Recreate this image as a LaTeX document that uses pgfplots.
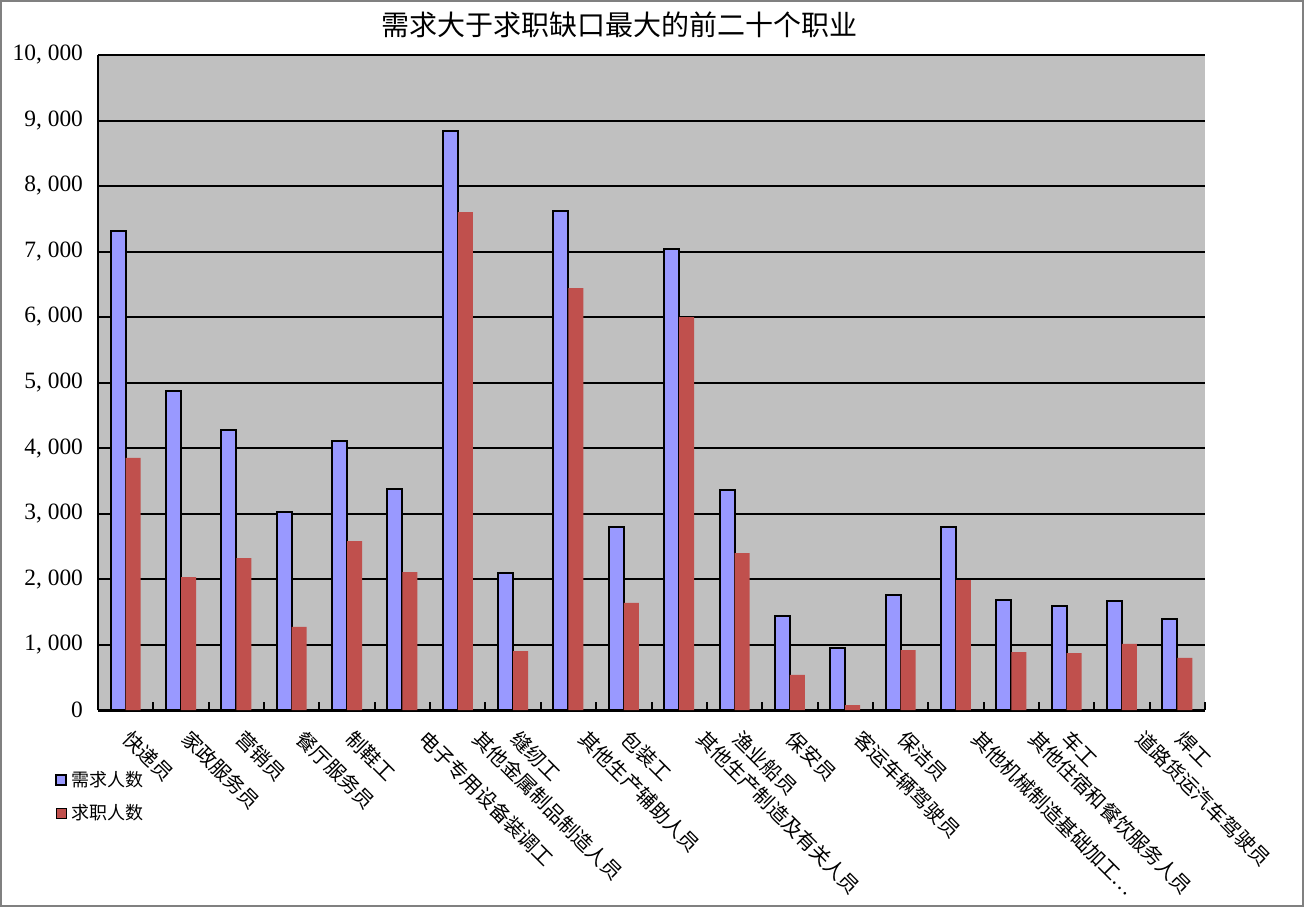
\documentclass[border=0pt]{standalone}
\usepackage{fontspec}
\setmainfont{Liberation Serif}
\newfontfamily\cjk{Noto Sans CJK SC}
\usepackage{pgfplots}
\pgfplotsset{compat=1.18}
\definecolor{demandblue}{RGB}{153,153,255}
\definecolor{supplyred}{RGB}{192,80,77}
\definecolor{plotgray}{RGB}{192,192,192}
% horizontal offset of each category label (pt)
\def\labshift{{4,5.5,5,7.5,4.5,13.5,13,4,10.5,4,14,4.5,3.5,9.5,4,13,14,3,12,4.5}}

\begin{document}
\begin{tikzpicture}
\path (0,0) rectangle (652pt,-453.5pt);
\draw[gray, line width=1pt] (0.5pt,-0.5pt) rectangle (651.5pt,-453pt);
\begin{axis}[
    at={(49pt,-355pt)}, anchor=south west,
    scale only axis, width=553.5pt, height=327.5pt,
    ybar=0pt, bar width=7.5pt,
    ymin=0, ymax=10000, xmin=-0.5, xmax=19.5,
    axis background/.style={fill=plotgray},
    axis x line*=bottom, axis y line*=left,
    x axis line style={line width=1.5pt},
    y axis line style={line width=1pt},
    ytick={0,1000,...,10000},
    ymajorgrids, major grid style={black, line width=1pt},
    major y tick style={draw=none},
    scaled y ticks=false,
    /pgf/number format/.cd, 1000 sep={,\ }, assume math mode=true, /pgfplots/.cd,
    yticklabel style={font=\fontsize{11.7}{13}\selectfont, xshift=-4pt},
    xtick={0,...,19},
    major x tick style={draw=none},
    minor xtick={-0.5,0.5,...,19.5},
    minor x tick style={black, line width=1pt},
    minor tick length=4pt,
    tick align=inside,
    xticklabels={快递员, 家政服务员, 营销员, 餐厅服务员, 制鞋工, 电子专用设备装调工, 其他金属制品制造人员, 缝纫工, 其他生产辅助人员, 包装工, 其他生产制造及有关人员, 渔业船员, 保安员, 客运车辆驾驶员, 保洁员, 其他机械制造基础加工…, 其他住宿和餐饮服务人员, 车工, 道路货运汽车驾驶员, 焊工},
    xticklabel style={xshift={\labshift[\ticknum]}, yshift=-7.5pt, rotate=-45, anchor=north west, inner sep=1pt,
        font=\cjk\fontsize{10}{11}\selectfont},
    title={需求大于求职缺口最大的前二十个职业},
    title style={at={(0.4715,1)}, anchor=center, yshift=9pt, font=\cjk\fontsize{14}{16}\selectfont},
    legend style={at={(-0.04,0)}, anchor=north west, xshift=-2.5pt, yshift=-26.5pt, draw=none, fill=none,
        font=\cjk\fontsize{9}{10}\selectfont, row sep=3.5pt, cells={anchor=west}},
    legend image code/.code={\draw[#1] (0pt,-2.5pt) rectangle (5pt,2.5pt);},
]
\addplot[fill=demandblue, draw=black, line width=1pt] coordinates {
    (0,7320) (1,4875) (2,4275) (3,3020) (4,4105) (5,3375) (6,8845) (7,2090) (8,7620) (9,2795)
    (10,7040) (11,3360) (12,1435) (13,945) (14,1755) (15,2795) (16,1680) (17,1590) (18,1670) (19,1390)
};
\addplot[fill=supplyred, draw=none] coordinates {
    (0,3850) (1,2030) (2,2320) (3,1270) (4,2580) (5,2105) (6,7600) (7,900) (8,6440) (9,1635)
    (10,6000) (11,2395) (12,535) (13,75) (14,915) (15,1985) (16,885) (17,870) (18,1010) (19,795)
};
\legend{需求人数, 求职人数}
\end{axis}
\end{tikzpicture}
\end{document}
